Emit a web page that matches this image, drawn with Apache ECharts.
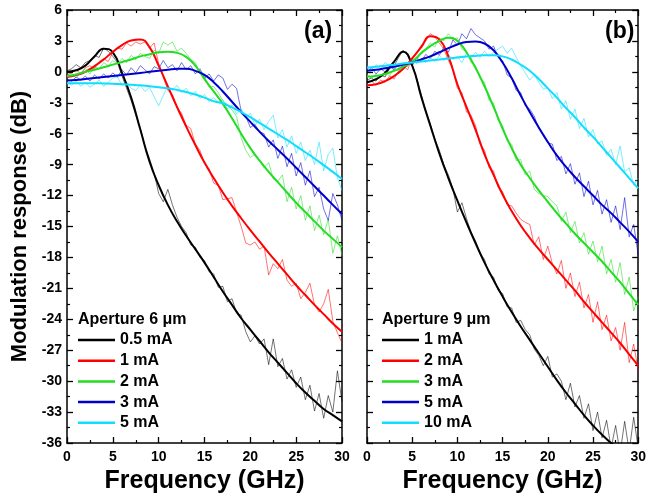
<!DOCTYPE html>
<html>
<head>
<meta charset="utf-8">
<script src="https://cdn.jsdelivr.net/npm/echarts@6/dist/echarts.min.js"></script>
<style>
html,body{margin:0;padding:0;background:#fff;}
#chart{width:649px;height:499px;}
</style>
</head>
<body>
<div id="chart"></div>
<script>
// ---------------- data ----------------
const freqFit = [0,1,2,3,4,5,6,7,8,9,10,11,12,13,14,15,16,17,18,19,20,21,22,23,24,25,26,27,28,29,30];
const freqMeas = [0,0.5,1,1.5,2,2.5,3,3.5,4,4.5,5,5.5,6,6.5,7,7.5,8,8.5,9,9.5,10,10.5,11,11.5,12,12.5,13,13.5,14,14.5,15,15.5,16,16.5,17,17.5,18,18.5,19,19.5,20,20.5,21,21.5,22,22.5,23,23.5,24,24.5,25,25.5,26,26.5,27,27.5,28,28.5,29,29.5,30];
const xTicks = [0,5,10,15,20,25,30];
const yTicks = [6,3,0,-3,-6,-9,-12,-15,-18,-21,-24,-27,-30,-33,-36];

// Panel (a): aperture 6 um
const labelsA = ['0.5 mA','1 mA','2 mA','3 mA','5 mA'];
const fitA_05 = [0.0,0.15,0.6,1.5,2.25,1.9,-0.1,-2.5,-5.6,-8.7,-11.0,-12.9,-14.5,-15.9,-17.2,-18.5,-19.9,-21.3,-22.6,-23.9,-25.0,-26.1,-27.2,-28.2,-29.2,-30.2,-31.1,-31.9,-32.7,-33.3,-33.9];
const fitA_1  = [-0.5,-0.3,0.0,0.55,1.2,1.95,2.6,3.05,3.15,2.4,0.6,-1.4,-3.4,-5.3,-7.1,-8.8,-10.3,-11.7,-13.0,-14.2,-15.35,-16.45,-17.55,-18.6,-19.65,-20.7,-21.65,-22.6,-23.5,-24.4,-25.2];
const fitA_2  = [-0.4,-0.25,0.0,0.2,0.45,0.7,0.95,1.2,1.5,1.7,1.9,1.96,1.85,1.45,0.6,-0.7,-1.9,-3.1,-4.5,-6.0,-7.4,-8.6,-9.7,-10.7,-11.7,-12.7,-13.6,-14.5,-15.4,-16.2,-17.0];
const fitA_3  = [-0.85,-0.8,-0.7,-0.6,-0.5,-0.4,-0.3,-0.2,-0.1,0.0,0.1,0.2,0.3,0.3,0.1,-0.3,-1.0,-1.9,-2.9,-3.9,-4.85,-5.8,-6.7,-7.55,-8.4,-9.3,-10.2,-11.1,-12.0,-12.9,-13.8];
const fitA_5  = [-1.1,-1.1,-1.1,-1.1,-1.12,-1.15,-1.2,-1.25,-1.3,-1.4,-1.5,-1.6,-1.75,-1.95,-2.2,-2.5,-2.85,-3.05,-3.45,-3.9,-4.4,-4.95,-5.5,-6.05,-6.6,-7.2,-7.8,-8.4,-9.05,-9.7,-10.4];

const measA_05 = [0.1,0.3,0.7,0.4,0.9,1.1,1.6,1.4,2.3,2.0,1.5,0.9,-0.4,-1.6,-2.8,-4.2,-5.5,-7.2,-8.4,-9.8,-11.8,-12.6,-11.4,-12.9,-14.1,-15.0,-15.6,-16.8,-17.0,-18.0,-18.3,-19.4,-19.6,-20.9,-20.8,-22.3,-22.0,-23.4,-23.6,-25.2,-26.2,-25.6,-26.4,-25.9,-28.4,-25.9,-28.6,-27.8,-29.8,-28.9,-30.6,-29.6,-31.8,-30.4,-32.9,-31.2,-33.6,-31.4,-33.0,-29.0,-32.0];
const measA_1  = [-0.3,-0.1,0.2,-0.2,0.4,0.6,0.3,1.0,1.3,1.0,1.9,2.3,2.2,2.8,2.5,2.9,2.7,2.9,2.3,2.8,0.8,-0.5,-1.8,-2.2,-3.5,-4.0,-5.2,-5.5,-7.0,-7.6,-8.9,-9.4,-10.8,-11.0,-12.4,-12.3,-12.2,-13.6,-15.0,-16.6,-16.8,-16.5,-17.2,-16.9,-19.7,-18.6,-19.1,-18.2,-20.2,-20.8,-20.5,-22.0,-21.4,-20.5,-22.6,-23.3,-22.5,-21.1,-24.2,-25.3,-26.3];
const measA_2  = [-0.5,-0.2,-0.6,-0.1,0.3,-0.2,0.5,0.3,0.9,0.6,1.1,0.8,1.3,0.9,1.6,1.2,1.8,1.5,1.3,2.1,1.8,2.9,2.6,2.9,2.0,2.3,1.8,1.2,0.9,-0.2,-0.4,-1.5,-1.4,-2.0,-2.8,-3.2,-3.7,-4.3,-6.4,-7.6,-8.3,-8.0,-8.6,-9.3,-8.8,-10.4,-10.6,-10.0,-12.6,-11.2,-13.3,-12.0,-14.4,-13.0,-15.4,-13.9,-15.8,-14.3,-17.6,-15.9,-17.8];
const measA_3  = [-0.7,-0.9,-0.5,-0.8,-0.4,-0.9,-0.3,-0.7,-0.2,-0.6,-0.1,-0.5,0.2,-0.3,0.4,-0.1,0.6,0.2,-0.2,0.5,0.3,1.1,0.4,0.7,0.1,0.9,0.2,0.6,-0.2,0.3,-0.6,-0.2,-0.9,-0.3,-0.6,-1.7,-1.2,-1.6,-3.8,-4.3,-5.4,-5.1,-5.8,-6.0,-7.3,-6.6,-8.4,-7.2,-9.2,-7.9,-10.1,-8.8,-11.0,-9.6,-12.1,-11.2,-13.3,-14.4,-11.8,-12.9,-14.4];
const measA_5  = [-1.0,-1.3,-0.9,-1.4,-1.0,-1.5,-1.2,-0.8,-1.4,-1.0,-0.6,-0.5,-1.3,-1.0,-1.6,-1.8,-1.3,-1.9,-1.5,-2.4,-3.3,-2.3,-1.4,-1.8,-1.3,-2.0,-1.6,-2.3,-1.9,-2.6,-2.2,-2.9,-2.5,-3.0,-2.7,-3.6,-3.2,-4.1,-3.6,-4.5,-4.0,-5.2,-4.6,-5.6,-4.8,-4.2,-6.4,-5.6,-7.3,-6.2,-7.9,-6.8,-8.6,-7.6,-9.0,-6.8,-9.6,-8.0,-7.4,-10.3,-11.5];

// Panel (b): aperture 9 um
const labelsB = ['1 mA','2 mA','3 mA','5 mA','10 mA'];
const fitB_1  = [-1.0,-0.7,-0.1,1.0,1.95,0.6,-2.4,-5.2,-7.9,-10.3,-12.5,-14.6,-16.6,-18.5,-20.2,-21.8,-23.3,-24.7,-26.0,-27.3,-28.6,-29.9,-31.1,-32.2,-33.3,-34.3,-35.2,-36.0,-36.8,-37.6,-38.4];
const fitB_2  = [-1.3,-1.2,-0.9,-0.4,0.3,1.3,2.4,3.45,3.15,1.5,-1.2,-3.4,-5.6,-8.0,-10.0,-11.9,-13.5,-14.9,-16.1,-17.2,-18.2,-19.2,-20.2,-21.2,-22.3,-23.3,-24.3,-25.3,-26.3,-27.4,-28.5];
const fitB_3  = [-0.45,-0.4,-0.2,0.1,0.5,1.0,1.8,2.5,3.0,3.3,3.0,1.9,0.4,-1.4,-3.4,-5.5,-7.4,-9.0,-10.3,-11.5,-12.6,-13.7,-14.7,-15.7,-16.6,-17.5,-18.4,-19.4,-20.4,-21.5,-22.6];
const fitB_5  = [0.1,0.2,0.35,0.5,0.7,0.9,1.2,1.5,1.9,2.3,2.65,2.9,2.95,2.75,2.1,0.9,-0.6,-2.3,-3.9,-5.4,-6.8,-8.1,-9.2,-10.2,-11.1,-12.0,-12.9,-13.7,-14.6,-15.5,-16.5];
const fitB_10 = [0.4,0.5,0.6,0.7,0.8,0.9,1.0,1.1,1.2,1.3,1.4,1.5,1.55,1.6,1.6,1.5,1.2,0.7,0.1,-0.7,-1.6,-2.5,-3.5,-4.4,-5.4,-6.3,-7.3,-8.3,-9.3,-10.3,-11.3];

const measB_1  = [-0.8,-0.6,-0.9,-0.3,-0.5,0.4,0.6,1.4,2.1,1.6,0.7,-0.6,-2.2,-3.9,-5.0,-6.5,-7.6,-9.0,-10.0,-11.3,-13.6,-12.7,-14.2,-15.6,-16.4,-17.6,-18.2,-19.6,-19.9,-21.2,-21.5,-22.8,-22.9,-24.3,-24.1,-25.0,-25.5,-26.9,-27.5,-28.5,-27.6,-29.6,-29.3,-30.0,-31.8,-30.2,-32.5,-31.4,-33.6,-32.2,-34.8,-33.0,-35.5,-33.8,-36.5,-34.3,-37.0,-33.9,-36.8,-33.5,-36.5];
const measB_2  = [-1.1,-0.9,-1.3,-0.8,-1.0,-0.4,-0.7,0.1,0.6,0.2,1.4,1.8,2.6,3.0,3.7,3.4,2.8,2.2,1.1,0.2,-1.6,-2.0,-3.9,-4.2,-5.2,-7.0,-7.6,-9.3,-9.6,-11.2,-11.6,-12.9,-13.0,-13.7,-14.3,-14.6,-14.8,-16.8,-16.0,-18.2,-16.9,-18.6,-19.6,-18.3,-21.0,-19.5,-21.8,-20.4,-22.9,-21.6,-24.3,-22.3,-25.0,-23.6,-26.1,-24.8,-27.0,-24.3,-28.2,-26.4,-29.0];
const measB_3  = [-0.3,-0.6,-0.2,-0.5,0.0,-0.4,0.4,0.0,0.7,0.5,1.3,1.0,2.0,2.2,2.8,2.4,3.3,3.0,3.7,3.1,3.3,2.2,2.0,0.9,0.6,-0.6,-1.0,-2.8,-3.0,-4.7,-5.2,-6.7,-7.0,-8.6,-8.5,-10.0,-9.6,-11.4,-11.8,-12.0,-12.1,-12.6,-13.0,-14.5,-13.6,-15.6,-14.5,-16.6,-15.6,-17.7,-16.4,-18.4,-16.9,-19.6,-18.2,-20.4,-18.5,-21.6,-19.9,-23.2,-21.8];
const measB_5  = [0.0,0.4,-0.2,0.3,0.0,0.6,0.2,0.8,0.4,0.9,0.6,1.3,1.0,1.7,1.3,2.0,1.6,2.4,1.9,3.1,2.6,3.7,3.2,4.2,3.6,3.3,3.0,2.2,2.5,1.4,1.1,-0.3,-0.6,-1.8,-2.0,-3.3,-3.6,-4.3,-5.5,-6.2,-6.9,-7.0,-8.6,-8.2,-9.9,-8.9,-10.9,-9.8,-12.1,-10.6,-12.9,-11.5,-13.8,-12.4,-14.6,-13.0,-15.3,-12.2,-16.0,-14.8,-17.8];
const measB_10 = [0.6,0.2,0.7,0.3,0.9,0.5,1.0,0.4,0.9,0.7,1.2,0.8,1.3,0.9,1.4,1.0,1.6,1.1,1.7,1.2,1.5,0.9,1.8,1.3,1.9,1.4,2.0,1.5,1.9,2.2,2.5,1.8,2.3,1.4,0.6,-0.1,-0.8,-0.3,-1.0,-1.7,-1.5,-2.6,-2.0,-3.6,-2.8,-4.6,-3.6,-5.5,-4.5,-6.3,-5.6,-7.0,-6.7,-8.1,-7.5,-9.0,-7.2,-9.7,-9.3,-11.0,-10.3];

const colors = ['#000000','#ff0000','#22dd22','#0000cc','#11ddff'];

// ---------------- build ----------------
const FONT = '"Liberation Sans", Arial, sans-serif';
const fitsA = [fitA_05, fitA_1, fitA_2, fitA_3, fitA_5];
const measA = [measA_05, measA_1, measA_2, measA_3, measA_5];
const fitsB = [fitB_1, fitB_2, fitB_3, fitB_5, fitB_10];
const measB = [measB_1, measB_2, measB_3, measB_5, measB_10];

function pairs(xs, ys){ return xs.map((x,i)=>[x, ys[i]]); }

const series = [];
function addPanel(prefix, axisIdx, labels, fits, meas){
  meas.forEach((m,i)=>{
    series.push({
      name: prefix + labels[i] + ' meas', type:'line', xAxisIndex: axisIdx, yAxisIndex: axisIdx,
      data: pairs(freqMeas, m), showSymbol:false, symbol:'none', smooth:false, clip:true,
      lineStyle:{color: colors[i], width:1, opacity:0.55}, itemStyle:{color:colors[i]}, z: 2, silent:true
    });
  });
  fits.forEach((f,i)=>{
    series.push({
      name: prefix + labels[i], type:'line', xAxisIndex: axisIdx, yAxisIndex: axisIdx,
      data: pairs(freqFit, f), showSymbol:false, symbol:'none', smooth:0.5, clip:true,
      lineStyle:{color: colors[i], width:2}, itemStyle:{color:colors[i]}, z: 3, silent:true
    });
  });
}
addPanel('a|', 0, labelsA, fitsA, measA);
addPanel('b|', 2, labelsB, fitsB, measB);

function xAx(gridIndex, pos, labels){
  return {
    type:'value', gridIndex, position: pos, min: xTicks[0], max: xTicks[xTicks.length-1], interval: 5,
    name: labels ? 'Frequency (GHz)' : '', nameLocation:'middle', nameGap: 26,
    nameTextStyle:{fontFamily:FONT, fontWeight:'bold', fontSize:25, color:'#000'},
    axisLine:{show:true, onZero:false, lineStyle:{color:'#000', width:1.5}},
    axisTick:{show:true, inside:true, length:6, lineStyle:{color:'#000', width:1.3}},
    minorTick:{show:true, splitNumber:2, length:3, lineStyle:{color:'#000', width:1.2}},
    axisLabel:{show: !!labels, fontFamily:FONT, fontWeight:'bold', fontSize:14, color:'#000', margin:7},
    splitLine:{show:false}
  };
}
function yAx(gridIndex, pos, labels){
  return {
    type:'value', gridIndex, position: pos, min: yTicks[yTicks.length-1], max: yTicks[0], interval: 3,
    name: labels ? 'Modulation response (dB)' : '', nameLocation:'middle', nameGap: 36,
    nameTextStyle:{fontFamily:FONT, fontWeight:'bold', fontSize:22, color:'#000'},
    axisLine:{show:true, onZero:false, lineStyle:{color:'#000', width:1.5}},
    axisTick:{show:true, inside:true, length:6, lineStyle:{color:'#000', width:1.3}},
    minorTick:{show:true, splitNumber:2, length:3, lineStyle:{color:'#000', width:1.2}},
    axisLabel:{show: !!labels, fontFamily:FONT, fontWeight:'bold', fontSize:14, color:'#000', margin:5},
    splitLine:{show:false}
  };
}

function legendFor(prefix, labels, left){
  return {
    show:true, orient:'vertical', left: left, top: 332, padding: 0,
    data: labels.map(l => prefix + l),
    formatter: n => n.split('|')[1],
    icon: 'rect', itemWidth: 37, itemHeight: 2.5, itemGap: 4.7,
    textStyle:{fontFamily:FONT, fontWeight:'bold', fontSize:16, color:'#000', lineHeight:16},
    selectedMode:false
  };
}

const option = {
  animation:false,
  backgroundColor:'#fff',
  grid:[
    {left:67, top:10, width:275, height:434, containLabel:false},
    {left:367, top:10, width:275, height:434, containLabel:false}
  ],
  xAxis:[ xAx(0,'bottom',true), xAx(0,'top',false), xAx(1,'bottom',true), xAx(1,'top',false) ],
  yAxis:[ yAx(0,'left',true), yAx(0,'right',false), yAx(1,'left',false), yAx(1,'right',false) ],
  legend:[ legendFor('a|', labelsA, 78), legendFor('b|', labelsB, 382) ],
  graphic:[
    {type:'text', left:304, top:20, style:{text:'(a)', font:'bold 23px ' + FONT, fill:'#000'}},
    {type:'text', left:605, top:20, style:{text:'(b)', font:'bold 23px ' + FONT, fill:'#000'}},
    {type:'text', left:78, top:312, style:{text:'Aperture 6 μm', font:'bold 16px ' + FONT, fill:'#000'}},
    {type:'text', left:382, top:312, style:{text:'Aperture 9 μm', font:'bold 16px ' + FONT, fill:'#000'}}
  ],
  series: series
};
const chart = echarts.init(document.getElementById('chart'), null, {renderer:'canvas'});
chart.setOption(option);
</script>
</body>
</html>
